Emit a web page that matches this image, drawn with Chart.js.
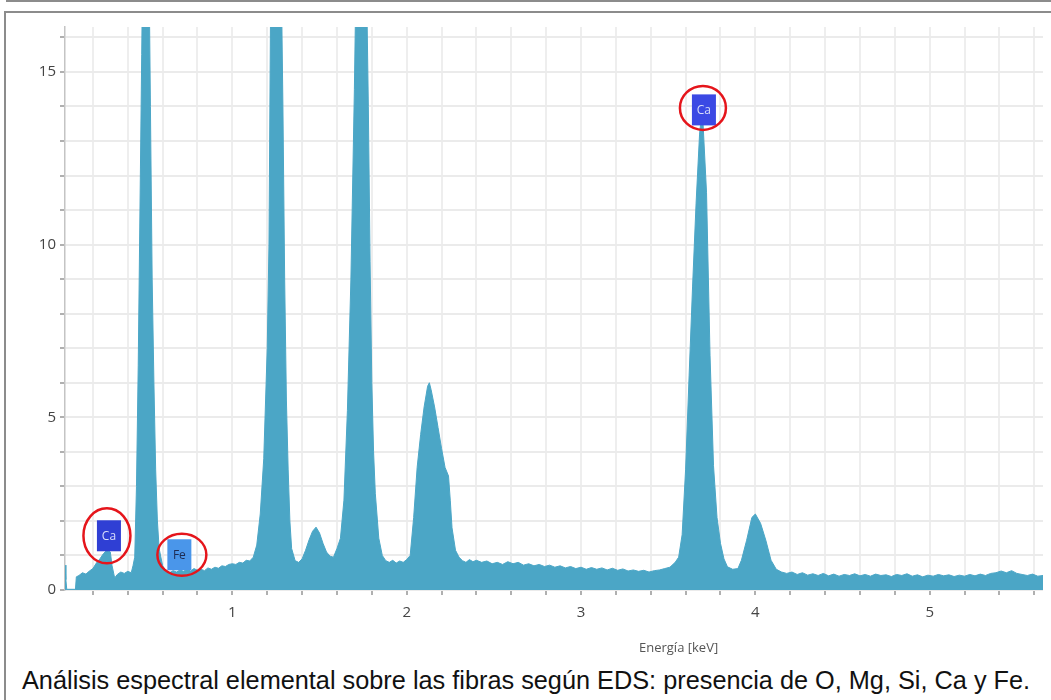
<!DOCTYPE html>
<html>
<head>
<meta charset="utf-8">
<script src="https://cdn.jsdelivr.net/npm/chart.js@4.4.0/dist/chart.umd.min.js"></script>
<style>
  body { margin: 0; width: 1051px; height: 700px; background: #fff; position: relative; overflow: hidden; }
  .topline { position: absolute; left: 6px; top: 0; width: 1045px; height: 0; border-top: 2px solid #8c8c8c; }
  .frame { position: absolute; left: 4px; top: 11px; width: 1047px; height: 689px; border-top: 2px solid #8c8c8c; border-left: 2px solid #8c8c8c; }
  #wrap { position: absolute; left: 0; top: 14px; width: 1051px; height: 640px; }
  .axis-title { position: absolute; left: 639px; top: 639px; font: 13px "Open Sans", sans-serif; color: #555; line-height: 16px; }
  .caption { position: absolute; left: 22px; top: 666px; font: 25.3px "Liberation Sans", Arial, sans-serif; line-height: 28px; color: #111; white-space: nowrap; }
</style>
</head>
<body>
<div class="topline"></div>
<div class="frame"></div>
<div id="wrap"><canvas id="eds"></canvas></div>
<div class="axis-title">Energía [keV]</div>
<div class="caption">Análisis espectral elemental sobre las fibras según EDS: presencia de O, Mg, Si, Ca y Fe.</div>
<script>
// spectrum (keV, counts)
const energy = [
  0.04, 0.045, 0.05, 0.10, 0.105, 0.12, 0.14, 0.16, 0.18, 0.20, 0.22, 0.24, 0.26, 0.28, 0.30, 0.31, 0.325, 0.34, 0.36, 0.38, 0.40, 0.42, 0.43, 0.44,
  0.45, 0.46, 0.47, 0.48, 0.49, 0.50, 0.51, 0.52, 0.53, 0.54, 0.55, 0.56, 0.57, 0.58, 0.60,
  0.62, 0.64, 0.66, 0.68, 0.70, 0.72, 0.74, 0.76, 0.78, 0.80, 0.82, 0.84, 0.86, 0.88, 0.90, 0.92, 0.94, 0.96, 0.98, 1.00, 1.02, 1.04, 1.06, 1.08, 1.10, 1.12,
  1.14, 1.16, 1.18, 1.20, 1.21, 1.22, 1.23, 1.25, 1.27, 1.28, 1.29, 1.30, 1.31, 1.32, 1.33, 1.34, 1.36, 1.38,
  1.40, 1.42, 1.44, 1.46, 1.48, 1.50, 1.52, 1.54, 1.56, 1.58,
  1.60, 1.62, 1.64, 1.66, 1.68, 1.70, 1.71, 1.73, 1.75, 1.77, 1.78, 1.79, 1.80, 1.81, 1.82, 1.84, 1.86, 1.88,
  1.90, 1.92, 1.94, 1.96, 1.98, 2.00,
  2.02, 2.04, 2.06, 2.08, 2.10, 2.12, 2.13, 2.14, 2.16, 2.18, 2.20, 2.22, 2.24, 2.25, 2.26, 2.28, 2.30, 2.32,
  2.34, 2.36, 2.38, 2.40, 2.43, 2.46, 2.49, 2.52, 2.55, 2.58, 2.61, 2.64, 2.67, 2.70, 2.73, 2.76, 2.79, 2.82, 2.85, 2.88,
  2.91, 2.94, 2.97, 3.00, 3.03, 3.06, 3.09, 3.12, 3.15, 3.18, 3.21, 3.24, 3.27, 3.30, 3.33, 3.36, 3.39, 3.42, 3.45, 3.48, 3.51, 3.54,
  3.56, 3.58, 3.60, 3.62, 3.64, 3.66, 3.68, 3.69, 3.70, 3.72, 3.74, 3.76, 3.78, 3.80, 3.82, 3.84, 3.87,
  3.90, 3.92, 3.95, 3.98, 4.00, 4.03, 4.06, 4.09, 4.12, 4.15,
  4.18, 4.21, 4.24, 4.27, 4.30, 4.33, 4.36, 4.39, 4.42, 4.45, 4.48, 4.51, 4.54, 4.57, 4.60, 4.63, 4.66, 4.69, 4.72, 4.75,
  4.78, 4.81, 4.84, 4.87, 4.90, 4.93, 4.96, 4.99, 5.02, 5.05, 5.08, 5.11, 5.14, 5.17, 5.20, 5.23, 5.26, 5.29, 5.32, 5.35,
  5.38, 5.41, 5.44, 5.47, 5.50, 5.53, 5.56, 5.59, 5.62, 5.65
];
const counts = [
  0.72, 0.3, 0.02, 0.02, 0.38, 0.42, 0.5, 0.46, 0.55, 0.62, 0.78, 0.9, 1.05, 1.15, 1.1, 0.7, 0.35, 0.45, 0.52, 0.48, 0.54, 0.5, 0.7, 0.95,
  3, 6.5, 11, 15.5, 20, 23, 23, 19, 14, 9, 6, 3.5, 2, 1.2, 0.7,
  0.55, 0.5, 0.56, 0.52, 0.58, 0.54, 0.6, 0.55, 0.62, 0.57, 0.6, 0.56, 0.64, 0.6, 0.66, 0.63, 0.7, 0.68, 0.74, 0.76, 0.74, 0.8, 0.78, 0.86, 0.84, 0.95,
  1.3, 2.2, 3.8, 7, 10, 17.5, 22, 25, 22, 18, 14, 9, 5.5, 3.5, 2, 1.2, 0.85, 0.8,
  0.9, 1.15, 1.45, 1.7, 1.82, 1.65, 1.35, 1.1, 0.98, 0.95,
  1.2, 1.5, 2.6, 5.2, 9, 14.5, 18, 23, 23, 17.5, 14, 9.5, 6, 4, 2.8, 1.5, 1.0, 0.85,
  0.8, 0.86, 0.78, 0.84, 0.8, 0.88,
  1.0, 2.1, 3.55, 4.5, 5.3, 5.9, 6.0, 5.8, 5.3, 4.7, 4.1, 3.55, 3.3, 2.6, 1.8, 1.15, 0.95, 0.85,
  0.8, 0.88, 0.82, 0.86, 0.8, 0.84, 0.76, 0.8, 0.74, 0.82, 0.76, 0.8, 0.72, 0.76, 0.7, 0.74, 0.68, 0.72, 0.66, 0.7,
  0.64, 0.68, 0.62, 0.66, 0.6, 0.65, 0.6, 0.64, 0.58, 0.63, 0.57, 0.61, 0.55, 0.58, 0.54, 0.57, 0.52, 0.56, 0.58, 0.62, 0.66, 0.8,
  0.95, 1.6, 3.5, 6.2, 8.8, 11.2, 13.2, 13.7, 13.5, 11.5, 6.8, 3.6, 2.1, 1.35, 0.9, 0.67, 0.6,
  0.62, 0.86, 1.44, 2.1, 2.2, 1.93, 1.44, 0.86, 0.6, 0.52,
  0.48, 0.52, 0.45, 0.5, 0.43, 0.47, 0.42, 0.48, 0.41, 0.46, 0.4, 0.45, 0.42, 0.47, 0.41, 0.45, 0.4, 0.46, 0.42, 0.44,
  0.39, 0.45, 0.42, 0.47, 0.4, 0.44, 0.38, 0.43, 0.4, 0.45, 0.41, 0.44, 0.39, 0.43, 0.4, 0.45, 0.41, 0.46, 0.42, 0.48,
  0.5, 0.55, 0.5, 0.56, 0.48, 0.45, 0.42, 0.46, 0.4, 0.42
];

// axis labels that carry text
const xLabelValues = [1, 2, 3, 4, 5];
const yLabelValues = [0, 5, 10, 15];

// element markers
const markerLabels = ['Ca', 'Fe', 'Ca'];
const markerEnergy = [0.292, 0.696, 3.705];
const markerLevel = [1.57, 1.02, 13.9];

const markerStyle = [
  { fill: '#2f3fd4', text: '#d9defa', rx: 23.5, ry: 27.5, dx: -2, dy: 0 },
  { fill: '#4a96ea', text: '#1d2b52', rx: 24.5, ry: 21, dx: 2.5, dy: 0 },
  { fill: '#3b49e4', text: '#d9defa', rx: 23, ry: 22, dx: -1, dy: -2 }
];

const markerPlugin = {
  id: 'markers',
  afterDatasetsDraw(chart) {
    const { ctx, scales } = chart;
    ctx.save();
    markerLabels.forEach((label, i) => {
      const st = markerStyle[i];
      const px = scales.x.getPixelForValue(markerEnergy[i]);
      const py = scales.y.getPixelForValue(markerLevel[i]);
      ctx.fillStyle = st.fill;
      ctx.fillRect(px - 12, py - 15.5, 24, 31);
      ctx.fillStyle = st.text;
      ctx.font = '12px "Open Sans", sans-serif';
      ctx.textAlign = 'center';
      ctx.textBaseline = 'middle';
      ctx.fillText(label, px, py + 1);
      ctx.strokeStyle = '#e5151b';
      ctx.lineWidth = 2.5;
      ctx.beginPath();
      ctx.ellipse(px + st.dx, py + st.dy, st.rx, st.ry, 0, 0, Math.PI * 2);
      ctx.stroke();
    });
    ctx.restore();
  }
};

const isLabel = (list, v) => list.some(t => Math.abs(t - v) < 1e-6);

new Chart(document.getElementById('eds'), {
  type: 'line',
  data: {
    datasets: [{
      data: energy.map((e, i) => ({ x: e, y: counts[i] })),
      borderColor: '#4ba6c6',
      backgroundColor: '#4ba6c6',
      borderWidth: 1,
      fill: 'origin',
      pointRadius: 0,
      tension: 0
    }]
  },
  options: {
    responsive: true,
    maintainAspectRatio: false,
    animation: false,
    layout: { padding: { top: 11, right: 8 } },
    plugins: {
      legend: { display: false },
      tooltip: { enabled: false }
    },
    scales: {
      x: {
        type: 'linear',
        min: 0.04,
        max: 5.65,
        afterFit: (s) => { s.height = 64; },
        ticks: {
          stepSize: 0.2,
          includeBounds: false,
          autoSkip: false,
          maxRotation: 0,
          padding: 9,
          color: '#444',
          font: { family: 'Open Sans', size: 15 },
          callback: (v) => isLabel(xLabelValues, v) ? String(Math.round(v)) : ''
        },
        grid: { color: '#eeeeee', lineWidth: 2, tickLength: 5, tickColor: '#b0b0b0' },
        border: { display: false }
      },
      y: {
        min: 0,
        max: 16.3,
        afterFit: (s) => { s.width = 65; },
        ticks: {
          stepSize: 1,
          includeBounds: false,
          autoSkip: false,
          padding: 4,
          color: '#444',
          font: { family: 'Open Sans', size: 15 },
          callback: (v) => isLabel(yLabelValues, v) ? String(v) : ''
        },
        grid: { color: '#ebebeb', lineWidth: 2, tickLength: 5, tickColor: '#b0b0b0' },
        border: { color: '#c4c4c4', width: 1.5 }
      }
    }
  },
  plugins: [markerPlugin]
});
</script>
</body>
</html>
